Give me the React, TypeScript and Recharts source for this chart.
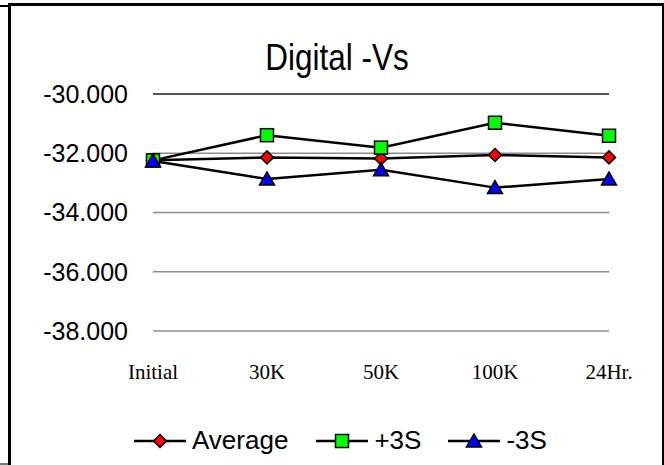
import { CartesianGrid, Legend, Line, LineChart, ReferenceLine, XAxis, YAxis } from "recharts";

const categories = ["Initial", "30K", "50K", "100K", "24Hr."];
const average = [-32.24, -32.14, -32.18, -32.06, -32.14];
const plus3s = [-32.24, -31.39, -31.81, -30.97, -31.41];
const minus3s = [-32.26, -32.87, -32.56, -33.16, -32.87];
const yTicks = [-38, -36, -34, -32, -30];

const data = categories.map((c, i) => ({ cat: c, avg: average[i], plus: plus3s[i], minus: minus3s[i] }));

const sans = "'Liberation Sans', Arial, sans-serif";
const serif = "'Liberation Serif', 'Times New Roman', serif";

type Shape = "diamond" | "square" | "triangle";

function marker(shape: Shape, cx: number, cy: number, key?: string) {
  if (shape === "diamond") {
    return <path key={key} d={`M${cx},${cy - 6.5} L${cx + 6.5},${cy} L${cx},${cy + 6.5} L${cx - 6.5},${cy} Z`} fill="#ff0000" stroke="#000" strokeWidth={1.5} />;
  }
  if (shape === "square") {
    return <rect key={key} x={cx - 6.5} y={cy - 6.5} width={13} height={13} fill="#00ff00" stroke="#000" strokeWidth={1.5} />;
  }
  return <path key={key} d={`M${cx},${cy - 7} L${cx + 7.5},${cy + 6} L${cx - 7.5},${cy + 6} Z`} fill="#0000ff" stroke="#000" strokeWidth={1.5} />;
}

const series: { key: string; name: string; shape: Shape }[] = [
  { key: "avg", name: "Average", shape: "diamond" },
  { key: "plus", name: "+3S", shape: "square" },
  { key: "minus", name: "-3S", shape: "triangle" },
];

function LegendRow() {
  return (
    <div style={{ display: "flex", alignItems: "center", fontFamily: sans, fontSize: 26, color: "#000" }}>
      {series.map((s, i) => (
        <div key={s.key} style={{ display: "flex", alignItems: "center", marginRight: i === 0 ? 28 : 27 }}>
          <svg width={52} height={20} style={{ marginRight: 6 }}>
            <line x1={0} y1={10} x2={52} y2={10} stroke="#000" strokeWidth={2.5} />
            {marker(s.shape, 26, 10)}
          </svg>
          <span>{s.name}</span>
        </div>
      ))}
    </div>
  );
}

export default function App() {
  return (
    <div style={{ position: "fixed", left: 0, top: 0, width: 664, height: 465, background: "#fff", overflow: "hidden" }}>
      {/* bits of the frame behind */}
      <div style={{ position: "absolute", left: 0, top: 5, width: 9, height: 2, background: "#000" }} />
      <div style={{ position: "absolute", left: 0, top: 463, width: 9, height: 2, background: "#777" }} />
      <div style={{ position: "absolute", left: 8, top: 3, width: 651, height: 480, border: "3px solid #000" }} />
      <div style={{ position: "absolute", left: 0, top: 39, width: 674, textAlign: "center", fontFamily: sans, fontSize: 37, lineHeight: "37px", color: "#000", transform: "scaleX(0.85)", transformOrigin: "337px 0" }}>
        Digital -Vs
      </div>
      <div style={{ position: "absolute", left: 0, top: 0 }}>
        <LineChart width={664} height={465} data={data} margin={{ top: 94, right: 55, bottom: 94, left: 13 }}>
          <CartesianGrid vertical={false} stroke="#8c8c8c" strokeWidth={1.5} />
          <ReferenceLine y={-30} stroke="#000" strokeWidth={1} />
          <XAxis
            dataKey="cat"
            axisLine={false}
            tickLine={false}
            tickSize={0}
            tickMargin={33}
            height={40}
            tick={{ fill: "#000", fontFamily: serif, fontSize: 21 }}
            interval={0}
          />
          <YAxis
            domain={[-38, -30]}
            ticks={yTicks}
            axisLine={false}
            tickLine={false}
            tickSize={0}
            tickMargin={25}
            width={140}
            tick={{ fill: "#000", fontFamily: sans, fontSize: 25 }}
            tickFormatter={(v: number) => v.toFixed(3)}
          />
          <Legend
            layout="horizontal"
            verticalAlign="middle"
            align="center"
            wrapperStyle={{ position: "absolute", left: 134, top: 425, width: "auto" }}
            content={() => <LegendRow />}
          />
          {series.map((s) => (
            <Line
              key={s.key}
              dataKey={s.key}
              name={s.name}
              stroke="#000"
              strokeWidth={2.5}
              isAnimationActive={false}
              dot={(p: any) => marker(s.shape, p.cx, p.cy, `${s.key}-${p.index}`)}
              activeDot={false}
            />
          ))}
        </LineChart>
      </div>
    </div>
  );
}
